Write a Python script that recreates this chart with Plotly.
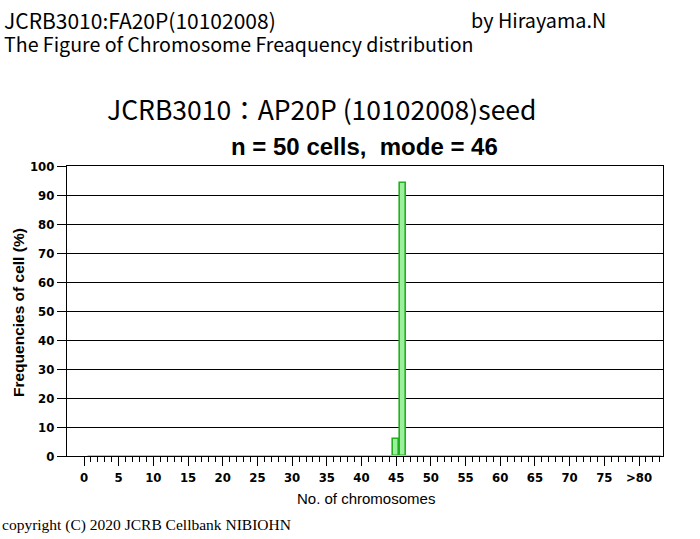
import plotly.graph_objects as go

# ---- data ----
chromosomes = [45, 46]
frequencies = [6, 94]          # % of 50 cells (3 cells, 47 cells)
bin_first, bin_last = 1, 83     # chromosome bins drawn on the baseline
x_tick_values = [0, 5, 10, 15, 20, 25, 30, 35, 40, 45, 50, 55, 60, 65, 70, 75, 80]
x_tick_labels = ["0", "5", "10", "15", "20", "25", "30", "35", "40", "45", "50",
                 "55", "60", "65", "70", "75", ">80"]
y_tick_values = [0, 10, 20, 30, 40, 50, 60, 70, 80, 90, 100]

BAR_FILL = "#9cf09c"
BAR_LINE = "#20b020"
NARROW = "Liberation Sans Narrow, DejaVu Sans Condensed, Arial Narrow, sans-serif"
CJK = "Noto Sans CJK JP, sans-serif"

fig = go.Figure()

# baseline of empty bins
fig.add_trace(go.Scatter(
    x=[bin_first - 0.5, bin_last + 0.2], y=[0, 0], mode="lines",
    line=dict(color="#8ee08e", width=2), hoverinfo="skip", showlegend=False))

fig.add_trace(go.Bar(
    x=chromosomes, y=frequencies, width=0.85,
    marker=dict(color=BAR_FILL, line=dict(color=BAR_LINE, width=1.6)),
    showlegend=False))

minor_vals = [v for v in range(0, bin_last + 1) if v not in x_tick_values]

pl, pr, pt, pb = 67, 37, 166, 83
pw, ph = 700 - pl - pr, 539 - pt - pb

fig.update_layout(
    width=700, height=539,
    margin=dict(l=pl, r=pr, t=pt, b=pb),
    paper_bgcolor="white", plot_bgcolor="white",
    bargap=0,
    xaxis=dict(
        range=[-2.45, 83.46],
        tickmode="array", tickvals=x_tick_values, ticktext=x_tick_labels,
        ticks="outside", ticklen=9, tickwidth=1, tickcolor="black",
        minor=dict(tickmode="array", tickvals=minor_vals, ticks="outside",
                   ticklen=5, tickwidth=1, tickcolor="black", showgrid=False),
        showline=True, linecolor="black", linewidth=1, mirror=True,
        showgrid=False, zeroline=False,
        tickfont=dict(family=NARROW, size=13, color="black", weight="bold"),
        fixedrange=True,
    ),
    yaxis=dict(
        range=[0, 100],
        tickmode="array", tickvals=y_tick_values,
        ticks="outside", ticklen=9, tickwidth=1, tickcolor="black",
        showline=True, linecolor="black", linewidth=1, mirror=True,
        showgrid=True, gridcolor="black", gridwidth=1, zeroline=False,
        tickfont=dict(family=NARROW, size=13, color="black", weight="bold"),
        fixedrange=True,
    ),
    font=dict(family="Liberation Sans, Arial, sans-serif", color="black"),
)

header = ("<span style='font-size:21px'>JCRB3010:FA20P(10102008)</span><br>"
          "<span style='font-size:19.6px'>The Figure of Chromosome Freaquency distribution</span>")

annotations = [
    dict(text=header, x=2, y=31, font=dict(family=CJK, size=17.5)),
    dict(text="by Hirayama.N", x=469, y=19,
         font=dict(family=CJK, size=19.8)),
    dict(text="JCRB3010：AP20P (10102008)seed", x=105, y=109,
         font=dict(family=CJK, size=26.5)),
    dict(text="n = 50 cells,  mode = 46", x=229, y=146,
         font=dict(family="Liberation Sans, Arial, sans-serif", size=24, weight="bold")),
    dict(text="No. of chromosomes", x=295, y=498,
         font=dict(family="Liberation Sans, Arial, sans-serif", size=15)),
    dict(text="copyright (C) 2020 JCRB Cellbank NIBIOHN", x=0, y=525,
         font=dict(family="Liberation Serif, serif", size=15.5)),
]
for a in annotations:
    fig.add_annotation(
        text=a["text"], x=(a["x"] - pl) / pw, y=1 - (a["y"] - pt) / ph,
        xref="paper", yref="paper", xanchor="left", yanchor="middle", align="left",
        showarrow=False, font=dict(color="black", **a["font"]))

fig.add_annotation(
    text="Frequencies of cell (%)", textangle=-90,
    x=(18 - pl) / pw, y=1 - (313 - pt) / ph, xref="paper", yref="paper",
    xanchor="center", yanchor="middle", showarrow=False,
    font=dict(family="Liberation Sans, Arial, sans-serif", size=15.5, color="black",
              weight="bold"))

fig.write_html("out.html", config={"displayModeBar": False},
               post_script="document.body.style.margin='0';")
